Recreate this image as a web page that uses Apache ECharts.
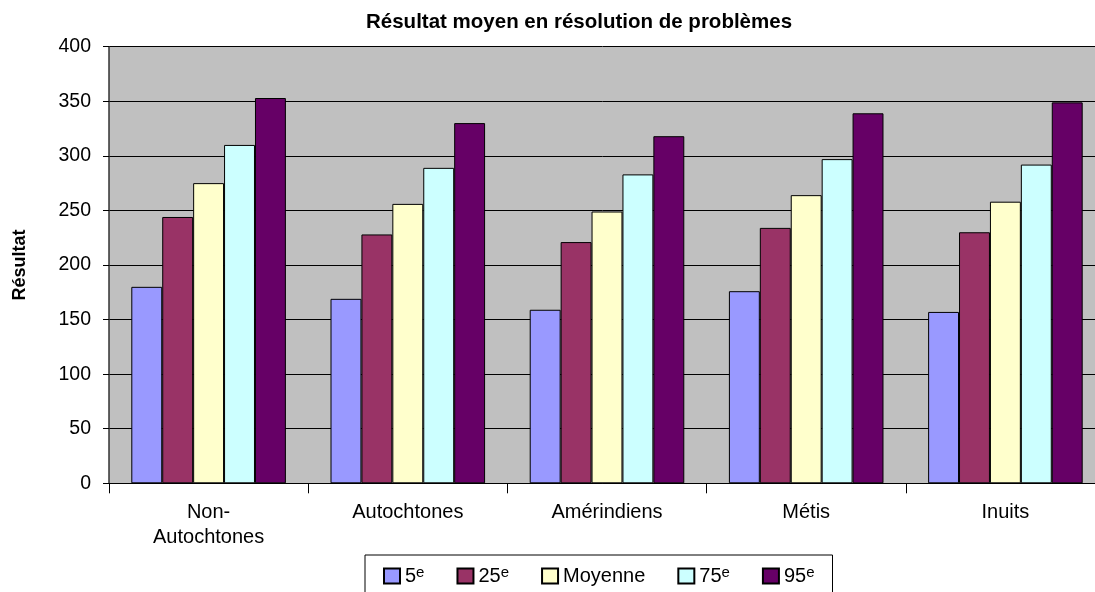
<!DOCTYPE html>
<html>
<head>
<meta charset="utf-8">
<script src="https://cdn.jsdelivr.net/npm/echarts@6/dist/echarts.min.js"></script>
<style>
  html, body { margin: 0; padding: 0; background: #fff; }
  #main { width: 1095px; height: 592px; }
</style>
</head>
<body>
<div id="main"></div>
<script>
// catégories et valeurs
const categories = ['Non-\nAutochtones', 'Autochtones', 'Amérindiens', 'Métis', 'Inuits'];
const seriesNames = ['5e', '25e', 'Moyenne', '75e', '95e'];
const p5 = [180, 169, 159, 176, 157];
const p25 = [244, 228, 221, 234, 230];
const moyenne = [275, 256, 249, 264, 258];
const p75 = [310, 289, 283, 297, 292];
const p95 = [353, 330, 318, 339, 349];
const yTicks = [0, 50, 100, 150, 200, 250, 300, 350, 400];

const colors = ['#9999FF', '#993366', '#FFFFCC', '#CCFFFF', '#660066'];
const values = [p5, p25, moyenne, p75, p95];

const font = 'Liberation Sans, Arial, sans-serif';
const myChart = echarts.init(document.getElementById('main'));

myChart.setOption({
  animation: false,
  textStyle: { fontFamily: font },
  title: {
    text: 'Résultat moyen en résolution de problèmes',
    left: 361,
    top: 7,
    textStyle: { fontSize: 20.5, fontWeight: 'bold', color: '#000', fontFamily: font }
  },
  legend: {
    data: seriesNames,
    left: 365,
    top: 555,
    padding: [10, 18, 10, 18],
    itemGap: 32,
    itemWidth: 16,
    itemHeight: 15,
    icon: 'rect',
    borderColor: '#000',
    borderWidth: 1,
    formatter: function (name) {
      if (name === 'Moyenne') return '{n|Moyenne}';
      return '{n|' + name.replace('e', '') + '}{s|e}';
    },
    textStyle: {
      color: '#000',
      rich: {
        n: { fontSize: 20, fontFamily: font, color: '#000', lineHeight: 22 },
        s: { fontSize: 15, fontFamily: font, color: '#000', verticalAlign: 'top', lineHeight: 8 }
      }
    }
  },
  grid: {
    left: 109,
    top: 46.7,
    right: -10,
    bottom: 108.7,
    outerBoundsMode: 'none',
    containLabel: false,
    show: true,
    backgroundColor: '#C0C0C0',
    borderWidth: 0
  },
  xAxis: {
    type: 'category',
    data: categories,
    axisLine: { lineStyle: { color: '#000', width: 1 } },
    axisTick: { show: true, length: 10, lineStyle: { color: '#000' } },
    axisLabel: { fontSize: 20, color: '#000', margin: 17, lineHeight: 25, fontFamily: font }
  },
  yAxis: {
    type: 'value',
    min: 0,
    max: 400,
    interval: 50,
    name: 'Résultat',
    nameLocation: 'middle',
    nameGap: 80,
    nameRotate: 90,
    nameTextStyle: { fontSize: 18, fontWeight: 'bold', color: '#000', fontFamily: font },
    axisLine: { show: true, lineStyle: { color: '#333', width: 1.5 } },
    axisTick: { show: true, length: 6, lineStyle: { color: '#000' } },
    axisLabel: {
      fontSize: 19.5, color: '#000', margin: 18, fontFamily: font,
      formatter: function (v) { return yTicks.indexOf(v) >= 0 ? String(v) : ''; }
    },
    splitLine: { lineStyle: { color: '#000', width: 1 } }
  },
  series: seriesNames.map((name, i) => ({
    name: name,
    type: 'bar',
    data: values[i],
    barGap: '0%',
    barCategoryGap: '22.4%',
    itemStyle: { color: colors[i], borderColor: '#000', borderWidth: 1 }
  }))
});
</script>
</body>
</html>
